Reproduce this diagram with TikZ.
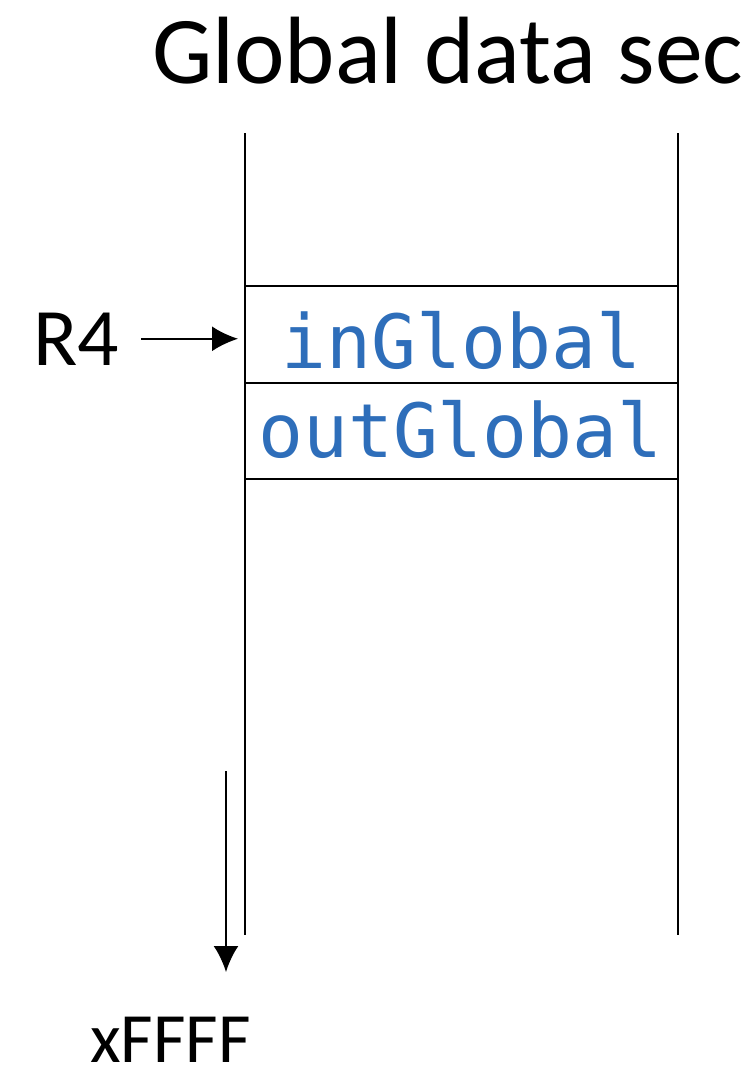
\documentclass[tikz,border=0pt]{standalone}
\usepackage{fontspec}
\setmainfont{Carlito}
\newfontfamily\codefont{DejaVu Sans Mono}
\usetikzlibrary{arrows.meta}
\definecolor{codeblue}{RGB}{46,110,186}
\begin{document}
\begin{tikzpicture}[x=1bp,y=-1bp,
  wall/.style={line width=1.9bp,black},
  cellbox/.style={draw,line width=1.9bp,minimum width=433bp,minimum height=96.5bp,inner sep=0pt},
  codetext/.style={font=\codefont\fontsize{75}{80}\selectfont,text=codeblue,inner sep=0pt,anchor=base},
  label/.style={font=\fontsize{82}{90}\selectfont,inner sep=0pt,anchor=base west},
  ptr/.style={line width=2.4bp,-{Latex[length=26bp,width=25bp]}}]
\useasboundingbox (0,0) rectangle (754,1081);
% title
\node[font=\fontsize{96}{110}\selectfont,inner sep=0pt,anchor=base west] (title) at (152,83) {Global data sec};
% walls
\coordinate (lt) at (245,133); \coordinate (lb) at (245,935);
\coordinate (rt) at (678,133); \coordinate (rb) at (678,935);
\draw[wall] (lt) -- (lb);
\draw[wall] (rt) -- (rb);
% cells
\node[cellbox] (cellA) at (461.5,334.5) {};
\node[cellbox] (cellB) at (461.5,431) {};
\node[codetext] (inG) at (461.5,368) {inGlobal};
\node[codetext] (outG) at (460.5,457) {outGlobal};
% R4 pointer
\node[label] (r4) at (33,365) {R4};
\draw[ptr,shorten <=22bp,shorten >=6bp] (r4.east) -- (r4.east -| cellA.west);
% direction arrow
\coordinate (dtop) at (226,771);
\coordinate (dbot) at (226,972);
\draw[ptr] (dtop) -- (dbot);
\node[label,font=\fontsize{71}{80}\selectfont] (xffff) at (90,1062) {xFFFF};
\end{tikzpicture}
\end{document}
